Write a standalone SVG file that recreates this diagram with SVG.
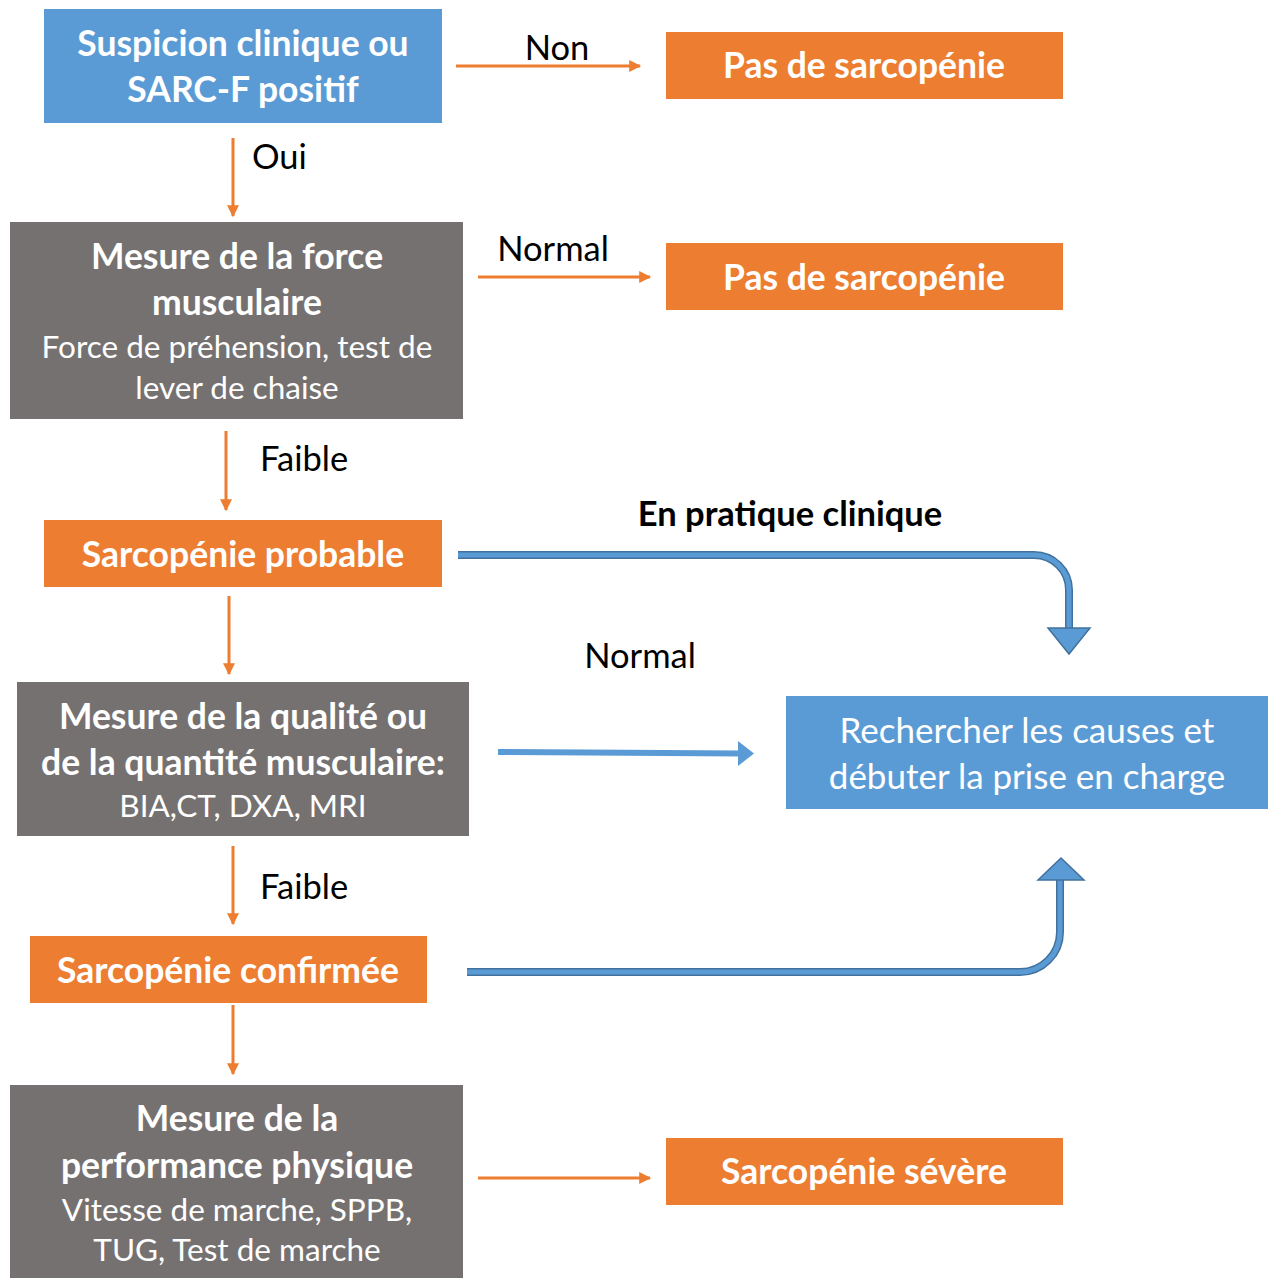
<svg xmlns="http://www.w3.org/2000/svg" width="1271" height="1278" viewBox="0 0 1271 1278">
<defs>
<style>
.blue{fill:#5B9BD5}
.orange{fill:#ED7D31}
.gray{fill:#767171}
text{font-family:Lato,"Open Sans",sans-serif;text-anchor:middle}
.tb{fill:#fff;font-weight:bold;font-size:35.5px}
.tr{fill:#fff;font-size:31.5px}
.tw{fill:#fff;font-size:35px}
.lab{fill:#000;font-size:34.5px;text-anchor:start}
.labc{fill:#000;font-size:34.5px}
.oarr{stroke:#ED7D31;stroke-width:3;fill:none}
.bout{stroke:#41719C;stroke-width:8;fill:none}
.bin{stroke:#5B9BD5;stroke-width:5;fill:none}
.bhead{fill:#5B9BD5;stroke:#41719C;stroke-width:1.5}
</style>
<marker id="oa" viewBox="0 0 10 10" refX="9" refY="5" markerWidth="5" markerHeight="4" orient="auto" markerUnits="strokeWidth">
<path d="M0,0 L10,5 L0,10 z" fill="#ED7D31"/>
</marker>
</defs>

<g id="n1"><rect class="blue" x="44" y="9" width="398" height="114"/>
<text class="tb" x="243" y="56">Suspicion clinique ou</text>
<text class="tb" x="243" y="102">SARC-F positif</text></g>

<g id="n2"><rect class="orange" x="666" y="32" width="397" height="67"/>
<text class="tb" x="864" y="78">Pas de sarcopénie</text></g>

<g id="n3"><rect class="gray" x="10" y="222" width="453" height="197"/>
<text class="tb" x="237" y="269">Mesure de la force</text>
<text class="tb" x="237" y="315">musculaire</text>
<text class="tr" x="237" y="358">Force de préhension, test de</text>
<text class="tr" x="237" y="399">lever de chaise</text></g>

<g id="n4"><rect class="orange" x="666" y="243" width="397" height="67"/>
<text class="tb" x="864" y="290">Pas de sarcopénie</text></g>

<g id="n5"><rect class="orange" x="44" y="520" width="398" height="67"/>
<text class="tb" x="243" y="567">Sarcopénie probable</text></g>

<g id="n6"><rect class="gray" x="17" y="682" width="452" height="154"/>
<text class="tb" x="243" y="729">Mesure de la qualité ou</text>
<text class="tb" x="243" y="775">de la quantité musculaire:</text>
<text class="tr" x="243" y="817">BIA,CT, DXA, MRI</text></g>

<g id="n7"><rect class="blue" x="786" y="696" width="482" height="113"/>
<text class="tw" x="1027" y="743">Rechercher les causes et</text>
<text class="tw" x="1027" y="789">débuter la prise en charge</text></g>

<g id="n8"><rect class="orange" x="30" y="936" width="397" height="67"/>
<text class="tb" x="228" y="983">Sarcopénie confirmée</text></g>

<g id="n9"><rect class="gray" x="10" y="1085" width="453" height="200"/>
<text class="tb" x="237" y="1131">Mesure de la</text>
<text class="tb" x="237" y="1178">performance physique</text>
<text class="tr" x="237" y="1221">Vitesse de marche, SPPB,</text>
<text class="tr" x="237" y="1261">TUG, Test de marche</text></g>

<g id="n10"><rect class="orange" x="666" y="1138" width="397" height="67"/>
<text class="tb" x="864" y="1184">Sarcopénie sévère</text></g>

<g id="connectors">
<line class="oarr" x1="456" y1="66" x2="640" y2="66" marker-end="url(#oa)"/>
<text class="labc" x="557" y="60">Non</text>
<line class="oarr" x1="233" y1="138" x2="233" y2="216" marker-end="url(#oa)"/>
<text class="lab" x="252" y="169">Oui</text>
<line class="oarr" x1="478" y1="277" x2="650" y2="277" marker-end="url(#oa)"/>
<text class="labc" x="553" y="261">Normal</text>
<line class="oarr" x1="226" y1="431" x2="226" y2="510" marker-end="url(#oa)"/>
<text class="lab" x="260" y="471">Faible</text>
<text class="labc" x="790" y="526" font-weight="bold">En pratique clinique</text>
<line class="oarr" x1="229" y1="596" x2="229" y2="674" marker-end="url(#oa)"/>
<text class="labc" x="640" y="668">Normal</text>
<line class="oarr" x1="233" y1="846" x2="233" y2="924" marker-end="url(#oa)"/>
<text class="lab" x="260" y="899">Faible</text>
<line class="oarr" x1="233" y1="1005" x2="233" y2="1074" marker-end="url(#oa)"/>
<line class="oarr" x1="478" y1="1178" x2="650" y2="1178" marker-end="url(#oa)"/>

<path class="bout" d="M458,555 H1034 A35,35 0 0 1 1069,590 V630"/>
<path class="bin" d="M458,555 H1034 A35,35 0 0 1 1069,590 V630"/>
<polygon class="bhead" points="1048,628 1090,628 1069,654"/>

<line x1="498" y1="752" x2="742" y2="753.5" stroke="#5B9BD5" stroke-width="6"/>
<polygon fill="#5B9BD5" points="738,741 754,753.5 738,766"/>

<path class="bout" d="M467,972 H1020 A40,40 0 0 0 1060,932 V878"/>
<path class="bin" d="M467,972 H1020 A40,40 0 0 0 1060,932 V878"/>
<polygon class="bhead" points="1038,880 1084,880 1061,858"/>
</g>
</svg>
